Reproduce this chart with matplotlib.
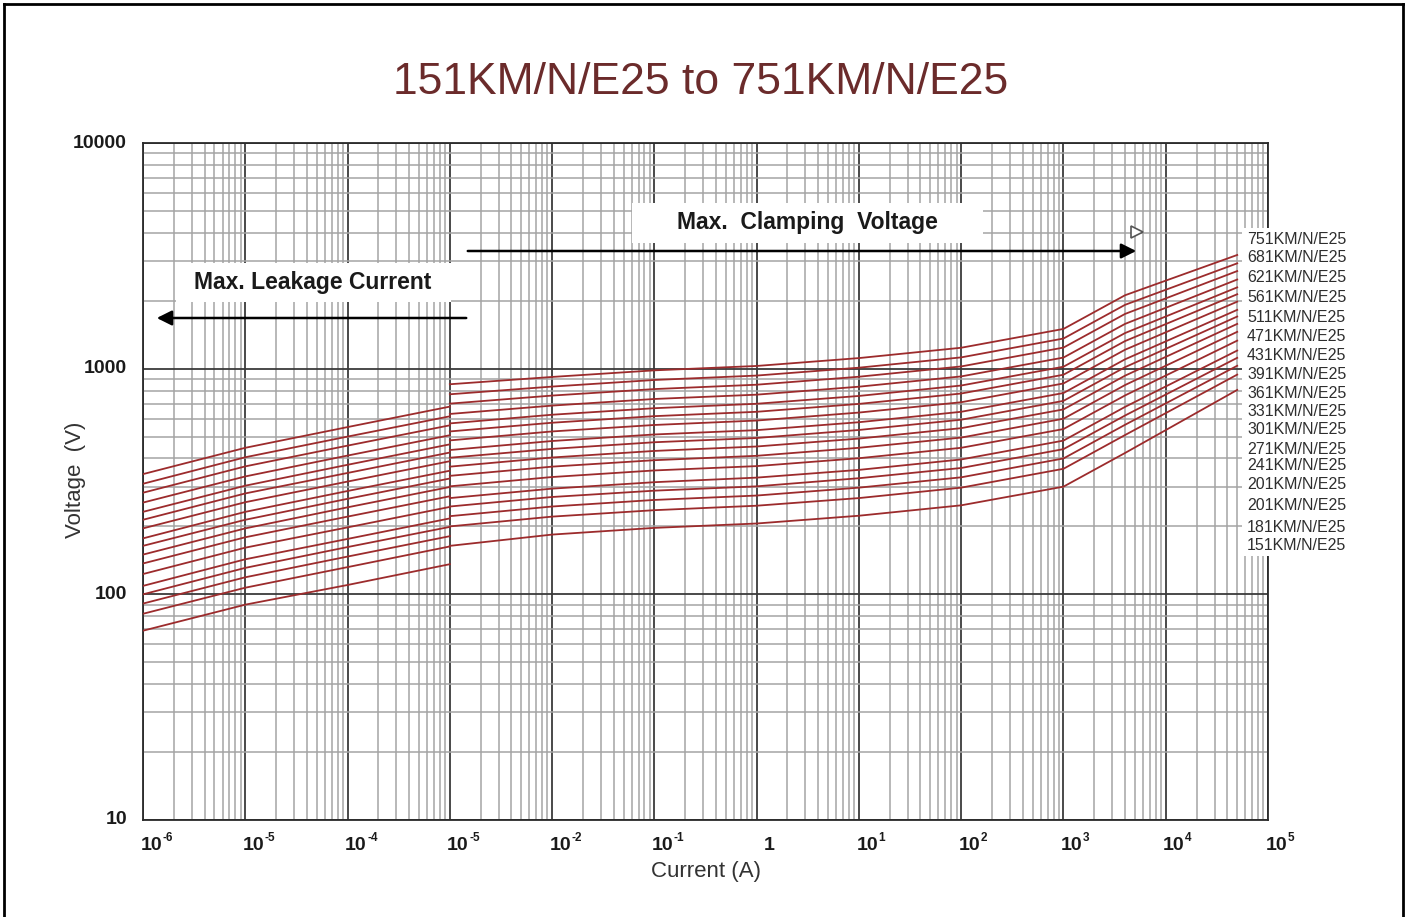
import matplotlib
matplotlib.use("Agg")
import matplotlib.pyplot as plt
from matplotlib.patches import Rectangle, FancyArrowPatch
from matplotlib.lines import Line2D
from matplotlib.ticker import LogLocator, NullFormatter
import matplotlib.transforms as mtransforms

plt.rcParams['font.family'] = ['Liberation Sans', 'DejaVu Sans']

# ---------------- data ----------------
title = "151KM/N/E25 to 751KM/N/E25"
series_names = ["751KM/N/E25", "681KM/N/E25", "621KM/N/E25", "561KM/N/E25",
                "511KM/N/E25", "471KM/N/E25", "431KM/N/E25", "391KM/N/E25",
                "361KM/N/E25", "331KM/N/E25", "301KM/N/E25", "271KM/N/E25",
                "241KM/N/E25", "201KM/N/E25", "201KM/N/E25", "181KM/N/E25",
                "151KM/N/E25"]

# leakage region currents (A)
leak_I = [1e-6, 1e-5, 1e-4, 1e-3]
# leakage voltages (V), one row per series (same order as series_names)
leak_V = [
    [341, 446, 551, 679],
    [309, 405, 500, 615],
    [282, 369, 456, 561],
    [255, 333, 412, 507],
    [232, 303, 375, 462],
    [214, 280, 345, 425],
    [196, 256, 316, 389],
    [177, 232, 287, 353],
    [164, 214, 265, 326],
    [150, 196, 243, 299],
    [137, 179, 221, 272],
    [123, 161, 198, 244],
    [109, 143, 176, 217],
    [100, 131, 162, 199],
    [91, 119, 147, 181],
    [82, 107, 132, 163],
    [69, 90, 110, 136],
]

# clamping region currents (A)
clamp_I = [1e-3, 1e-2, 1e-1, 1, 10, 100, 1e3, 4e3, 5e4]
clamp_V = [
    [853, 919, 983, 1028, 1114, 1238, 1500, 2115, 3190],
    [770, 833, 891, 932, 1010, 1122, 1360, 1918, 2929],
    [700, 760, 812, 849, 921, 1023, 1240, 1748, 2707],
    [630, 686, 734, 767, 832, 924, 1120, 1579, 2483],
    [572, 625, 668, 699, 757, 842, 1020, 1438, 2292],
    [527, 576, 616, 644, 698, 776, 940, 1325, 2137],
    [481, 527, 563, 589, 639, 710, 860, 1213, 1981],
    [436, 478, 511, 534, 579, 644, 780, 1100, 1822],
    [403, 441, 472, 493, 535, 594, 720, 1015, 1702],
    [368, 404, 432, 452, 490, 545, 660, 931, 1579],
    [335, 368, 393, 411, 446, 495, 600, 846, 1456],
    [301, 331, 354, 370, 401, 446, 540, 761, 1331],
    [267, 294, 314, 329, 356, 396, 480, 677, 1203],
    [245, 270, 288, 301, 327, 363, 440, 620, 1117],
    [222, 245, 262, 274, 297, 330, 400, 564, 1030],
    [200, 221, 236, 247, 267, 297, 360, 508, 941],
    [164, 184, 197, 206, 223, 248, 300, 423, 805],
]

x_tick_vals = [1e-6, 1e-5, 1e-4, 1e-3, 1e-2, 1e-1, 1, 1e1, 1e2, 1e3, 1e4, 1e5]
x_tick_base = ["10", "10", "10", "10", "10", "10", "1", "10", "10", "10", "10", "10"]
x_tick_exp = ["-6", "-5", "-4", "-5", "-2", "-1", "", "1", "2", "3", "4", "5"]
y_tick_vals = [10, 100, 1000, 10000]
y_tick_text = ["10", "100", "1000", "10000"]

# ---------------- figure ----------------
W, H = 1407, 917
fig = plt.figure(figsize=(W / 100, H / 100), dpi=100)
fig.patch.set_facecolor("white")


def fx(px):
    return px / W


def fy(py):
    return 1 - py / H


ax = fig.add_axes([fx(143), fy(820), 1125 / W, 677 / H])
ax.set_xscale("log")
ax.set_yscale("log")
ax.set_xlim(1e-6, 1e5)
ax.set_ylim(10, 10000)

ax.xaxis.set_major_locator(LogLocator(base=10, numticks=30))
ax.xaxis.set_minor_locator(LogLocator(base=10, subs=range(2, 10), numticks=300))
ax.yaxis.set_major_locator(LogLocator(base=10, numticks=30))
ax.yaxis.set_minor_locator(LogLocator(base=10, subs=range(2, 10), numticks=300))
for axis in (ax.xaxis, ax.yaxis):
    axis.set_major_formatter(NullFormatter())
    axis.set_minor_formatter(NullFormatter())
ax.tick_params(which="both", length=0)
ax.grid(which="minor", color="#a4a4a4", linewidth=1.1)
ax.grid(which="major", color="#3a3a3a", linewidth=1.3)
ax.set_axisbelow(True)
for s in ax.spines.values():
    s.set_color("#2a2a2a")
    s.set_linewidth(1.3)

curve_color = "#9c2b2c"
for lv, cv in zip(leak_V, clamp_V):
    ax.plot(leak_I, lv, color=curve_color, lw=1.3, zorder=3)
    ax.plot(clamp_I, cv, color=curve_color, lw=1.3, zorder=3)

# x tick labels: bold base with small raised exponent, set right of gridline
dpi_t = fig.dpi_scale_trans
blend = mtransforms.blended_transform_factory(ax.transData, ax.transAxes)
for v, b, e in zip(x_tick_vals, x_tick_base, x_tick_exp):
    if e:
        tb = blend + mtransforms.ScaledTranslation(19 / 100, 0, dpi_t)
        ax.text(v, -25 / 677, b, transform=tb, ha="right", va="center",
                fontsize=14, fontweight="bold", color="#1a1a1a", clip_on=False)
        te = blend + mtransforms.ScaledTranslation(19.5 / 100, 7 / 100, dpi_t)
        ax.text(v, -25 / 677, e, transform=te, ha="left", va="center",
                fontsize=8.5, fontweight="bold", color="#1a1a1a", clip_on=False)
    else:
        tb = blend + mtransforms.ScaledTranslation(13 / 100, 0, dpi_t)
        ax.text(v, -25 / 677, b, transform=tb, ha="center", va="center",
                fontsize=14, fontweight="bold", color="#1a1a1a", clip_on=False)

yt_trans = mtransforms.blended_transform_factory(ax.transAxes, ax.transData)
for v, t in zip(y_tick_vals, y_tick_text):
    ax.text(-16 / 1125, v, t, transform=yt_trans, ha="right", va="center",
            fontsize=14, fontweight="bold", color="#1a1a1a", clip_on=False)

fig.text(fx(706), fy(872), "Current (A)", ha="center", va="center",
         fontsize=16, color="#333333")
fig.text(fx(76), fy(480), "Voltage  (V)", ha="center", va="center",
         rotation=90, fontsize=16, color="#333333")
fig.text(fx(701), fy(83), title, ha="center", va="center",
         fontsize=32, color="#6b2b2b")

# annotation boxes and arrows
fig.add_artist(Rectangle((fx(632), fy(243)), (983 - 632) / W, 40 / H,
                         transform=fig.transFigure, facecolor="white",
                         edgecolor="none", zorder=2))
fig.text(fx(807), fy(222), "Max.  Clamping  Voltage", ha="center", va="center",
         fontsize=16.5, fontweight="bold", color="#1a1a1a", zorder=3)
fig.add_artist(Rectangle((fx(176), fy(302)), (451 - 176) / W, 39 / H,
                         transform=fig.transFigure, facecolor="white",
                         edgecolor="none", zorder=2))
fig.text(fx(313), fy(283), "Max. Leakage Current", ha="center", va="center",
         fontsize=16.5, fontweight="bold", color="#1a1a1a", zorder=3)

fig.add_artist(FancyArrowPatch(
    (fx(465), fy(251)), (fx(1139), fy(251)), transform=fig.transFigure,
    arrowstyle="-|>,head_length=6,head_width=3", mutation_scale=1.5,
    color="black", lw=1.8, zorder=3))
fig.add_artist(FancyArrowPatch(
    (fx(469), fy(318)), (fx(154), fy(318)), transform=fig.transFigure,
    arrowstyle="-|>,head_length=6,head_width=3", mutation_scale=1.5,
    color="black", lw=1.8, zorder=3))
fig.add_artist(Line2D([fx(1137)], [fy(232)], marker=">", markersize=8,
                      markerfacecolor="white", markeredgecolor="#555555",
                      markeredgewidth=1.2, transform=fig.transFigure, zorder=3))

# series label block
fig.add_artist(Rectangle((fx(1242), fy(556)), (1357 - 1242) / W, (556 - 228) / H,
                         transform=fig.transFigure, facecolor="white",
                         edgecolor="none", zorder=2))
label_y = [240, 258, 277, 297, 317, 337, 356, 374, 393, 411, 429, 450, 466,
           485, 506, 527, 546]
for name, yy in zip(series_names, label_y):
    fig.text(fx(1247), fy(yy), name, ha="left", va="center", fontsize=11.5,
             color="#2e2e2e", zorder=3)

# outer frame
fig.add_artist(Line2D([fx(4), fx(4)], [fy(917), fy(4)], color="black", lw=2,
                      transform=fig.transFigure))
fig.add_artist(Line2D([fx(4), fx(1403)], [fy(4), fy(4)], color="black", lw=2,
                      transform=fig.transFigure))
fig.add_artist(Line2D([fx(1403), fx(1403)], [fy(4), fy(917)], color="black", lw=2,
                      transform=fig.transFigure))

fig.savefig("out.png", dpi=100, facecolor="white")
